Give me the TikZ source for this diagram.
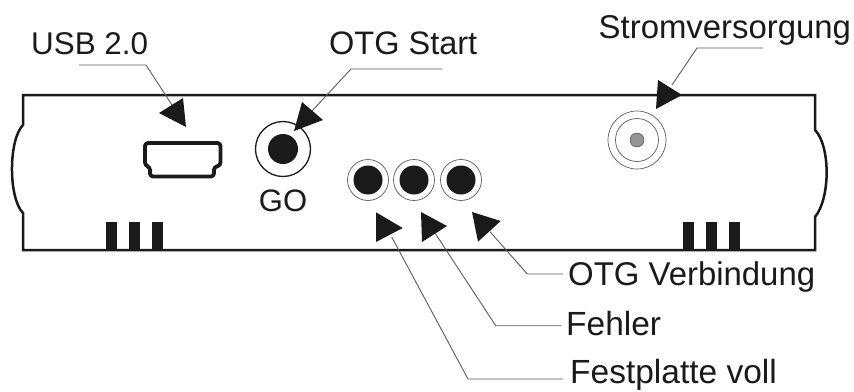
\documentclass[tikz,border=0pt]{standalone}
\usepackage{fontspec}
\setmainfont{Liberation Sans}
\definecolor{ink}{HTML}{1A1A1A}
\definecolor{leader}{HTML}{5A5A5A}
\tikzset{
  panel/.style={draw=ink,line width=2.5pt,line join=miter},
  leaderline/.style={draw=leader,line width=0.9pt},
  tip/.style={fill=ink,draw=none},
  bar/.style={fill=ink,draw=none},
  lbl/.style={anchor=base west,inner sep=0pt,text=ink},
  ledring/.style={circle,draw=black!65,line width=0.7pt,fill=white,minimum size=41pt,inner sep=0pt},
  leddot/.style={circle,fill=ink,minimum size=29pt,inner sep=0pt},
}
\newcommand{\fs}[1]{\fontsize{#1}{#1}\selectfont}
\begin{document}
\begin{tikzpicture}[x=1pt,y=-1pt]
\useasboundingbox (0,0) rectangle (854,391);
% panel
\draw[panel] (23,125) -- (23,95) -- (815,95) -- (815,130)
  .. controls (830.5,146) and (830.5,198) .. (815,217)
  -- (815,250) -- (23,250) -- (23,213)
  .. controls (8.3,198) and (8.3,140) .. cycle;
% bars
\foreach \xa in {105.7,129,152,682.7,706,729}
  \fill[bar] (\xa,222) rectangle ++(11,28);
% USB socket
\draw[ink,line width=3.8pt,line join=round,rounded corners=3pt]
  (145,143) -- (220.5,143) -- (220.5,165.5) -- (214,167) -- (214,176.5) -- (150,176.5) -- (150,167) -- (145,165.5) -- cycle;
% GO button
\node[circle,draw=ink,line width=1.3pt,minimum size=55pt,inner sep=0pt] (gobtn) at (283,149) {};
\node[circle,fill=ink,minimum size=30pt,inner sep=0pt] (godot) at (283,149) {};
\node[anchor=base,inner sep=0pt,text=ink,font=\fs{31}] (golabel) at (283,211) {GO};
% LEDs
\node[ledring] (leda) at (368,180) {};
\node[leddot] (ledadot) at (368,180) {};
\node[ledring] (ledb) at (414,180) {};
\node[leddot] (ledbdot) at (414,180) {};
\node[ledring] (ledc) at (461,180) {};
\node[leddot] (ledcdot) at (461,180) {};
% power socket
\node[circle,draw=black!65,line width=0.7pt,minimum size=58pt,inner sep=0pt] (pwra) at (637,140) {};
\node[circle,draw=black!65,line width=0.7pt,minimum size=43pt,inner sep=0pt] (pwrb) at (637,140) {};
\node[circle,draw=black!70,fill=black!42,line width=0.5pt,minimum size=14pt,inner sep=0pt] (pwrc) at (637,140) {};
% labels
\node[lbl,font=\fs{31.4}] (usb) at (31,54) {USB 2.0};
\node[lbl,font=\fs{32.5}] (otgs) at (329,54) {OTG Start};
\node[lbl,font=\fs{32.9}] (strom) at (598.5,38) {Stromversorgung};
\node[lbl,font=\fs{32.9}] (otgv) at (568,285) {OTG Verbindung};
\node[lbl,font=\fs{33.5}] (fehler) at (566,335) {Fehler};
\node[lbl,font=\fs{33.5}] (voll) at (570,383.5) {Festplatte voll};
% leader coordinates
\coordinate (usbs) at (79,65);   \coordinate (usbk) at (146,65);  \coordinate (usbe) at (172,105);
\coordinate (gos) at (442,69);   \coordinate (gok) at (351,69);   \coordinate (goe) at (312,111);
\coordinate (pws) at (763,48);   \coordinate (pwk) at (697,48);   \coordinate (pwe) at (672,85);
\coordinate (vs) at (563,274);   \coordinate (vk) at (527.3,274); \coordinate (ve) at (490,231.7);
\coordinate (fs) at (561.7,325.7); \coordinate (fk) at (495.7,325.7); \coordinate (fe) at (435,233);
\coordinate (ps) at (563,379);   \coordinate (pk) at (468,379);   \coordinate (pe) at (391.7,237);
\draw[leaderline] (usbs) -- (usbk) -- (usbe);
\draw[leaderline] (gos) -- (gok) -- (goe);
\draw[leaderline] (pws) -- (pwk) -- (pwe);
\draw[leaderline] (vs) -- (vk) -- (ve);
\draw[leaderline] (fs) -- (fk) -- (fe);
\draw[leaderline] (ps) -- (pk) -- (pe);
% arrowheads
\fill[tip] (159,113) -- (183,98) -- (186,127) -- cycle;
\fill[tip] (302,102) -- (323,120) -- (294,131) -- cycle;
\fill[tip] (658,80) -- (682,95) -- (656,109) -- cycle;
\fill[tip] (376,212.3) -- (402.7,228) -- (376,242) -- cycle;
\fill[tip] (421,212) -- (447,226) -- (422,242) -- cycle;
\fill[tip] (472,212) -- (500.7,221) -- (478,241.7) -- cycle;
\end{tikzpicture}
\end{document}
